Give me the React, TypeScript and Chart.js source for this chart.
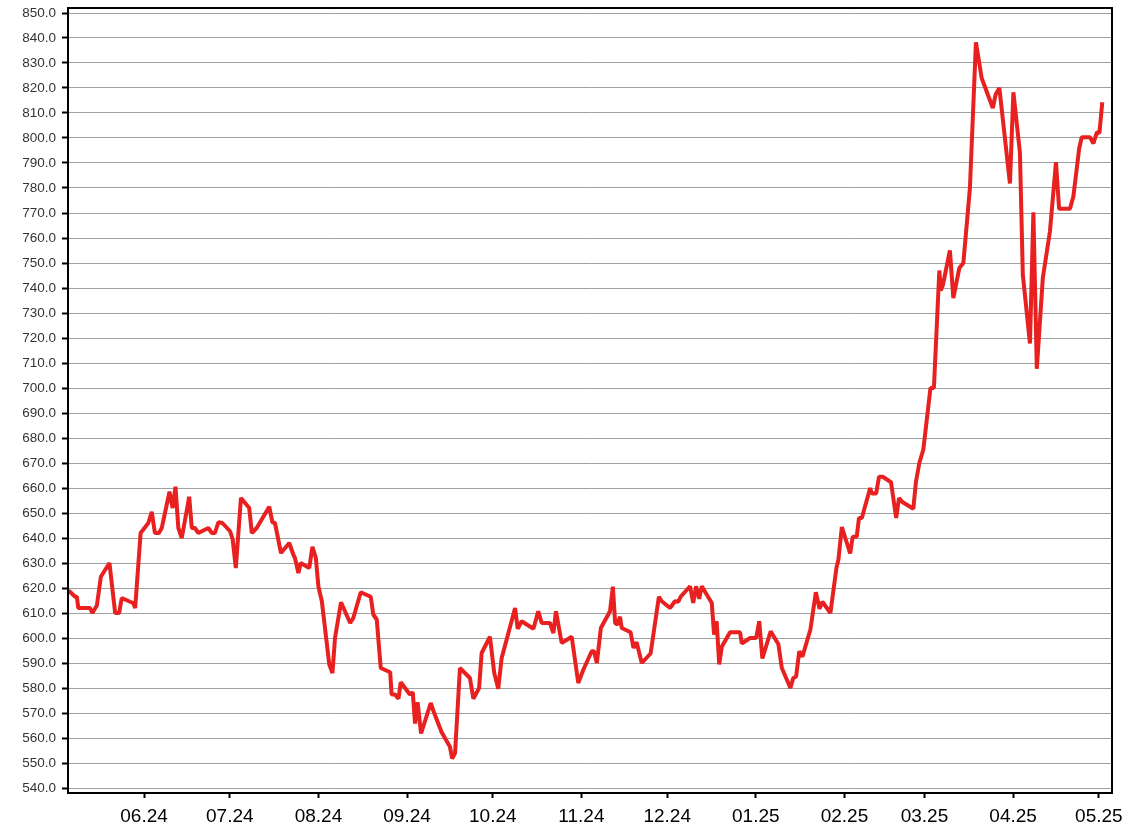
import React, { useEffect, useRef } from "react";
import { Chart, registerables } from "chart.js";

Chart.register(...registerables);

// Day offsets counted from 2024-05-01
const dayOffsets: number[] = [
  4.6, 6.9, 7.5, 8.0, 12.1, 12.9, 14.5, 15.9, 18.9, 20.9, 22.3, 23.2, 26.1, 27.2, 27.9, 29.8,
  32.5, 33.7, 34.8, 36.2, 37.2, 39.9, 41.0, 42.0, 43.0, 44.2, 46.8, 47.7, 48.8, 50.0, 53.5,
  54.7, 55.8, 57.0, 58.4, 61.1, 62.0, 63.1, 64.9, 67.8, 68.7, 70.4, 74.8, 75.9, 76.8, 78.9,
  81.8, 83.2, 83.8, 85.0, 85.8, 88.8, 89.9, 91.1, 92.0, 93.2, 95.8, 96.9, 97.8, 99.9, 103.1,
  104.2, 106.8, 110.3, 111.2, 112.4, 113.8, 117.1, 117.6, 118.8, 120.0, 120.8, 124.0, 125.0,
  125.8, 126.7, 127.9, 131.3, 132.4, 135.1, 138.0, 138.8, 139.8, 141.5, 145.0, 146.2, 148.2,
  149.1, 152.0, 153.5, 154.9, 156.1, 160.8, 161.7, 163.1, 167.2, 168.9, 170.1, 173.0, 174.2,
  175.1, 177.1, 180.6, 182.9, 184.7, 187.6, 188.4, 189.4, 190.8, 194.0, 195.0, 195.8, 196.6,
  197.5, 198.1, 201.2, 202.2, 203.3, 205.1, 208.2, 211.1, 212.1, 215.0, 216.7, 217.9, 218.7,
  222.0, 223.1, 224.1, 225.2, 226.1, 229.6, 230.4, 231.3, 232.2, 233.1, 236.0, 239.5, 240.1,
  243.0, 245.1, 246.2, 247.3, 250.2, 252.9, 254.1, 257.1, 258.1, 259.1, 260.2, 261.3, 264.1,
  266.0, 267.3, 268.3, 271.1, 273.2, 273.9, 275.1, 278.0, 278.9, 280.3, 281.1, 282.1, 285.0,
  285.6, 287.1, 288.1, 289.4, 292.3, 294.1, 295.1, 296.4, 300.1, 301.0, 302.2, 303.6, 306.1,
  307.3, 309.2, 309.7, 310.4, 312.9, 314.1, 316.2, 317.6, 319.9, 322.0, 324.0, 327.9, 328.9,
  330.2, 333.9, 335.1, 337.4, 338.4, 340.9, 342.1, 343.3, 345.4, 347.9, 350.0, 351.1, 354.9,
  356.1, 358.1, 359.0, 361.9, 363.1, 364.3, 365.2, 366.2,
];

const prices: number[] = [
  619, 616.5, 616.5, 612, 612, 610, 613, 624.5, 630, 610, 610, 616, 614.5, 614, 612, 642,
  646, 650.5, 642, 642, 644, 658.5, 652, 660.5, 644, 640, 656.5, 644, 644, 642, 644,
  642, 642, 646.3, 646, 642.7, 639.5, 628, 656, 652, 642, 644, 652.5, 646.3, 646, 634,
  638, 633.4, 632, 626, 630, 628, 636.5, 632, 620.5, 614.7, 589.4, 586, 600, 614.3, 606,
  608, 618.3, 616.5, 609.4, 607.4, 588, 586.3, 577.4, 577.4, 575.7, 582.3, 577.4, 578.3,
  565.8, 574.3, 561.8, 574, 570.3, 562.3, 556.5, 551.8, 554, 588, 584, 575.7, 580,
  594, 600.5, 586, 579.7, 592, 612, 603.7, 606.7, 603.7, 610.7, 606, 606, 602,
  610.7, 598, 600.5, 582, 587.4, 594.7, 594.7, 590, 604, 610.7, 620.5, 606, 605.4,
  608.5, 604, 602.3, 596, 598.3, 590, 593.8, 616.5, 614.7, 612, 614.7, 614.5, 616.5,
  620.7, 614, 620.7, 615.7, 620.7, 614, 601.4, 606.7, 589.4, 596.5, 602.3, 602.3, 597.8,
  600, 600, 606.7, 591.8, 602.7, 597.5, 588, 580, 584, 584.5, 594.7, 592.5, 603.4,
  618.3, 611.7, 614.5, 610, 628, 631.4, 644.4, 633.8, 640.5, 640.5, 648, 648, 660,
  657.8, 657.8, 664.5, 664.5, 662.3, 648, 656, 654.3, 651.7, 662.3, 670, 675.4, 700,
  700, 747, 739, 741, 755, 736, 748, 750, 780, 838.3, 824, 812, 817.4,
  820, 781.8, 818.3, 794, 745.4, 717.8, 770.3, 707.7, 744, 762.7, 790.3, 771.7, 771.7,
  776.7, 795.7, 800.3, 800.3, 797.8, 802.3, 802, 814.3,
];

const monthTickDays: number[] = [31, 61, 92, 123, 153, 184, 214, 245, 276, 304, 335, 365];
const monthTickLabels: string[] = [
  "06.24", "07.24", "08.24", "09.24", "10.24", "11.24", "12.24",
  "01.25", "02.25", "03.25", "04.25", "05.25",
];

const yTickValues: number[] = [
  540, 550, 560, 570, 580, 590, 600, 610, 620, 630, 640, 650, 660, 670, 680, 690, 700,
  710, 720, 730, 740, 750, 760, 770, 780, 790, 800, 810, 820, 830, 840, 850,
];

const frameBorder = {
  id: "frameBorder",
  afterDraw(chart: any) {
    const { ctx, chartArea } = chart;
    ctx.save();
    ctx.strokeStyle = "#000";
    ctx.lineWidth = 2;
    ctx.strokeRect(chartArea.left, chartArea.top, chartArea.right - chartArea.left, chartArea.bottom - chartArea.top);
    ctx.restore();
  },
};

export default function App() {
  const ref = useRef<HTMLCanvasElement | null>(null);
  useEffect(() => {
    document.body.style.margin = "0";
    const canvas = ref.current;
    if (!canvas) return;
    const points = dayOffsets.map((d, i) => ({ x: d, y: prices[i] }));
    const chart = new Chart(canvas, {
      type: "line",
      data: {
        datasets: [
          {
            data: points,
            borderColor: "#e82020",
            borderWidth: 4,
            borderJoinStyle: "bevel",
            pointRadius: 0,
            tension: 0,
            fill: false,
          },
        ],
      },
      options: {
        animation: false,
        responsive: false,
        devicePixelRatio: 1,
        layout: { padding: { top: 8, right: 16, left: 0, bottom: 0 } },
        plugins: { legend: { display: false }, tooltip: { enabled: false } },
        scales: {
          x: {
            type: "linear",
            min: 4.4,
            max: 369.6,
            afterBuildTicks: (scale: any) => {
              scale.ticks = monthTickDays.map((v) => ({ value: v }));
            },
            afterFit: (scale: any) => {
              scale.height = 43;
              scale.paddingLeft = 0;
              scale.paddingRight = 0;
            },
            ticks: {
              autoSkip: false,
              maxRotation: 0,
              padding: 7,
              color: "#000",
              font: { family: "'Liberation Sans', Arial, sans-serif", size: 19 },
              callback: (value: any) => {
                const i = monthTickDays.indexOf(Number(value));
                return i >= 0 ? monthTickLabels[i] : "";
              },
            },
            grid: {
              drawOnChartArea: false,
              drawTicks: true,
              tickLength: 5,
              tickWidth: 2,
              tickColor: "#000",
            },
            border: { display: true, color: "#000", width: 2 },
          },
          y: {
            type: "linear",
            min: 538,
            max: 852,
            afterBuildTicks: (scale: any) => {
              scale.ticks = yTickValues.map((v) => ({ value: v }));
            },
            afterFit: (scale: any) => {
              scale.width = 68;
              scale.paddingTop = 0;
              scale.paddingBottom = 0;
            },
            ticks: {
              padding: 6,
              color: "#333",
              font: { family: "'Liberation Sans', Arial, sans-serif", size: 13.5 },
              callback: (value: any) => Number(value).toFixed(1),
            },
            grid: {
              color: "#a0a0a0",
              lineWidth: 1,
              borderDash: [3, 1],
              tickLength: 6,
              tickWidth: 2,
              tickColor: "#000",
              tickBorderDash: [],
            } as any,
            border: { display: true, color: "#000", width: 2 },
          },
        },
      },
      plugins: [frameBorder],
    } as any);
    return () => chart.destroy();
  }, []);
  return (
    <div style={{ position: "absolute", left: 0, top: 0, width: 1128, height: 836 }}>
      <canvas ref={ref} width={1128} height={836} style={{ width: 1128, height: 836 }} />
    </div>
  );
}
